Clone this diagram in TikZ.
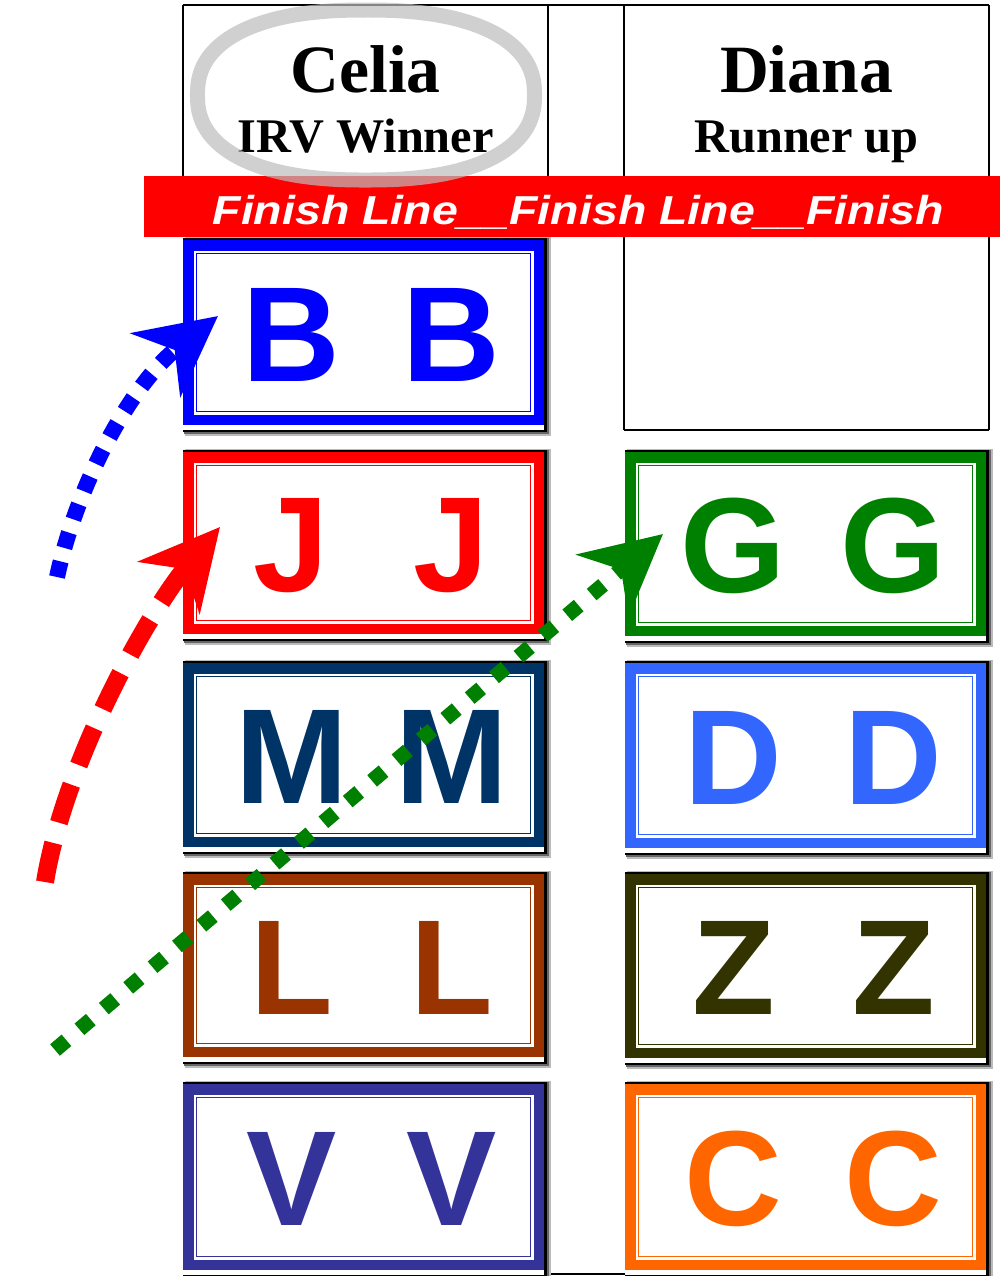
\documentclass[tikz,border=0pt]{standalone}
\usepackage{fontspec}
\usepackage{graphicx}
\usetikzlibrary{arrows.meta}
\newfontfamily\lsans{Liberation Sans}
\newfontfamily\lserif{Liberation Serif}
\definecolor{cB}{HTML}{0000FF}
\definecolor{cJ}{HTML}{FF0000}
\definecolor{cM}{HTML}{003366}
\definecolor{cL}{HTML}{993300}
\definecolor{cV}{HTML}{333399}
\definecolor{cG}{HTML}{008000}
\definecolor{cD}{HTML}{3366FF}
\definecolor{cZ}{HTML}{333300}
\definecolor{cC}{HTML}{FF6600}
\definecolor{shadowA}{HTML}{666666}
\definecolor{shadowB}{HTML}{BBBBBB}
\definecolor{ringgrey}{HTML}{BDBDBD}
\tikzset{
  tline/.style={line width=1.1pt, black},
  letterstyle/.style={anchor=base, inner sep=0pt, font=\lsans\bfseries\fontsize{77}{77}\selectfont},
  headbig/.style={anchor=base, inner sep=0pt, font=\lserif\bfseries\fontsize{38.5}{40}\selectfont},
  headsmall/.style={anchor=base, inner sep=0pt, font=\lserif\bfseries\fontsize{27.5}{30}\selectfont},
  bannertext/.style={anchor=base, inner sep=0pt, text=white, font=\lsans\bfseries\itshape\fontsize{23}{25}\selectfont},
  bigtip/.style={-{Stealth[length=1.58cm,width=1.6cm,inset=0.48cm]}},
  bluedots/.style={cB, line width=0.32cm, line cap=butt, dash pattern=on 0.32cm off 0.28cm, bigtip},
  reddash/.style={cJ, line width=0.36cm, line cap=butt, dash pattern=on 0.8cm off 0.42cm, bigtip},
  greendots/.style={cG, line width=0.3cm, line cap=butt, dash pattern=on 0.3cm off 0.34cm, bigtip},
  ringstyle/.style={ringgrey, line width=0.3cm, opacity=0.7},
}
% #1 name, #2 x0, #3 y0, #4 x1, #5 y1, #6 colour, #7 letter
\newcommand\tile[7]{%
  \fill[shadowB] (#2+2,#3-3) rectangle (#4+7,#5+11);
  \fill[shadowA] (#2+1,#3-2) rectangle (#4+5,#5+9);
  \fill[black] (#2,#3-2) rectangle (#4+2.5,#5+7);
  \fill[white] (#2,#3) rectangle (#4,#5+5);
  \fill[#6] (#2,#3) rectangle (#4,#5);
  \fill[white] (#2+10.5,#3+10.5) rectangle (#4-10.5,#5-10.5);
  \draw[#6, line width=0.85pt] (#2+13.5,#3+13.5) rectangle (#4-13.5,#5-13.5);
  \coordinate (#1) at ({(#2+#4)/2},{(#3+#5)/2});
  \node[letterstyle, text=#6] (#1a) at ({(#2+#4)/2-72},{(#3+#5)/2+48.5}) {#7};
  \node[letterstyle, text=#6] (#1b) at ({(#2+#4)/2+88},{(#3+#5)/2+48.5}) {#7};
}
\begin{document}
\begin{tikzpicture}[x=0.02cm, y=-0.02cm]
  \fill[white] (0,0) rectangle (1000,1276);
  \useasboundingbox (0,0) rectangle (1000,1276);
  % table lines
  \draw[tline] (183,5) -- (989,5);
  \draw[tline] (183,5) -- (183,178);
  \draw[tline] (548,5) -- (548,240);
  \draw[tline] (624,5) -- (624,430);
  \draw[tline] (989,5) -- (989,430);
  \draw[tline] (624,430) -- (989,430);
  \draw[tline] (183,1274) -- (989,1274);
  % header texts
  \node[headbig] (celia) at (365.5,92) {Celia};
  \node[headsmall] (irv) at (365.5,152) {IRV Winner};
  \node[headbig] (diana) at (806.5,92) {Diana};
  \node[headsmall] (runner) at (806.5,152) {Runner up};
  % banner
  \fill[red] (144,176) rectangle (1000,237);
  \node[bannertext] (finish) at (578,224) {\scalebox{1.15}[1]{Finish Line\_\_Finish Line\_\_Finish}};
  % ring (rounded superellipse)
  \draw[ringstyle] plot[smooth cycle, domain=1:358, samples=120, variable=\t]
    ({366+168.5*sign(cos(\t))*abs(cos(\t))^(0.85)}, {95+85*sign(sin(\t))*abs(sin(\t))^(0.85)});
  % tiles
  \tile{tB}{183}{240}{544}{425}{cB}{B}
  \tile{tJ}{183}{452}{544}{634}{cJ}{J}
  \tile{tM}{183}{663}{544}{847}{cM}{M}
  \tile{tL}{183}{874}{544}{1057}{cL}{L}
  \tile{tV}{183}{1084}{544}{1270}{cV}{V}
  \tile{tG}{625}{452}{986}{636}{cG}{G}
  \tile{tD}{625}{663}{986}{848}{cD}{D}
  \tile{tZ}{625}{874}{986}{1058}{cZ}{Z}
  \tile{tC}{625}{1084}{986}{1270}{cC}{C}
  % arrows
  \coordinate (bstart) at (57,577);
  \coordinate (bend) at (218,316);
  \coordinate (rstart) at (45,882);
  \coordinate (rend) at (220,527);
  \coordinate (gstart) at (55,1050);
  \coordinate (gend) at (663,534);
  \draw[bluedots] (bstart) .. controls (77,485) and (130,385) .. (bend);
  \draw[reddash] (rstart) .. controls (65,760) and (150,610) .. (rend);
  \draw[greendots] (gstart) -- (gend);
\end{tikzpicture}
\end{document}
